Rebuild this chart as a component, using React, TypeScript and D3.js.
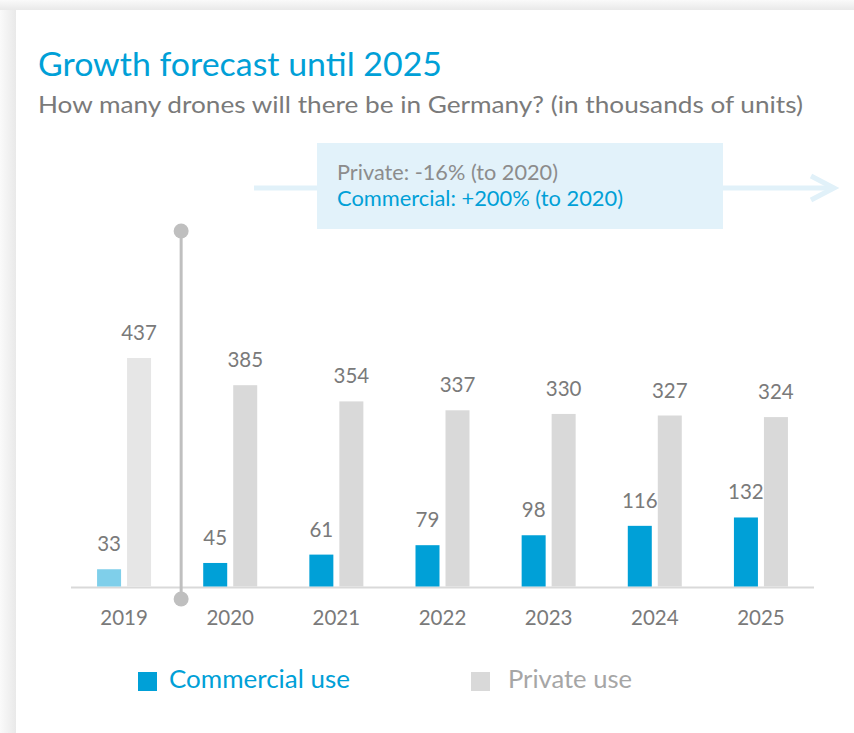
import React from "react";
import * as d3 from "d3";

const years = ["2019", "2020", "2021", "2022", "2023", "2024", "2025"];
const commercial = [33, 45, 61, 79, 98, 116, 132];
const privateUse = [437, 385, 354, 337, 330, 327, 324];
const titleText = "Growth forecast until 2025";
const subtitleText = "How many drones will there be in Germany? (in thousands of units)";
const noteLines = ["Private: -16% (to 2020)", "Commercial: +200% (to 2020)"];
const legendLabels = ["Commercial use", "Private use"];

const W = 854;
const H = 733;
const FONT = "Lato, 'Open Sans', sans-serif";
const BLUE = "#00a0d7";
const BLUE_LIGHT = "#7fcfea";
const GRAY_BAR = "#d9d9d9";
const GRAY_BAR_LIGHT = "#e6e6e6";
const TEXT_GRAY = "#7a7a7a";

export default function App() {
  const x = d3.scaleBand<string>().domain(years).range([71, 814]).padding(0);
  const y = d3.scaleLinear().domain([0, 437]).range([586.5, 358]);
  const barW = 24;
  const gap = 3;
  const cx = (yr: string) => (x(yr) as number) + x.bandwidth() / 2;
  const divX = (x("2020") as number) + 4;

  return (
    <div style={{ position: "absolute", left: 0, top: 0, width: W, height: H }}>
      <svg width={W} height={H} style={{ display: "block" }}>
        <defs>
          <linearGradient id="shL" x1="0" x2="1" y1="0" y2="0">
            <stop offset="0" stopColor="#fafafa" />
            <stop offset="1" stopColor="#e9e9e9" />
          </linearGradient>
          <linearGradient id="shT" x1="0" x2="0" y1="0" y2="1">
            <stop offset="0" stopColor="#fafafa" />
            <stop offset="1" stopColor="#e9e9e9" />
          </linearGradient>
        </defs>
        <rect x={0} y={0} width={W} height={H} fill="#f8f8f8" />
        <rect x={0} y={0} width={16} height={H} fill="url(#shL)" />
        <rect x={0} y={0} width={W} height={10} fill="url(#shT)" />
        <rect x={16} y={10} width={W - 16} height={H - 10} fill="#ffffff" />

        <text x={38} y={76} fontFamily={FONT} fontSize={33} fill={BLUE} textLength={404} lengthAdjust="spacingAndGlyphs">
          {titleText}
        </text>
        <text x={38} y={113} fontFamily={FONT} fontSize={24} fill={TEXT_GRAY} textLength={765} lengthAdjust="spacingAndGlyphs">
          {subtitleText}
        </text>

        {/* arrow */}
        <line x1={254} x2={832} y1={188} y2={188} stroke="#e1f1f9" strokeWidth={5} />
        <polyline
          points="811,176 834,188 811,200"
          fill="none"
          stroke="#e1f1f9"
          strokeWidth={5}
        />
        <rect x={317} y={143} width={406} height={86} fill="#e2f2fa" />
        <text x={337} y={180} fontFamily={FONT} fontSize={21} fill="#8c8c8c" textLength={221} lengthAdjust="spacingAndGlyphs">
          {noteLines[0]}
        </text>
        <text x={337} y={206} fontFamily={FONT} fontSize={21} fill={BLUE} textLength={286} lengthAdjust="spacingAndGlyphs">
          {noteLines[1]}
        </text>

        {/* axis baseline */}
        <line x1={71} x2={814} y1={587.5} y2={587.5} stroke="#d9d9d9" strokeWidth={2} />

        {years.map((yr, i) => {
          const c = cx(yr);
          const first = i === 0;
          return (
            <g key={yr}>
              <rect
                x={c - gap - barW}
                y={y(commercial[i])}
                width={barW}
                height={y(0) - y(commercial[i])}
                fill={first ? BLUE_LIGHT : BLUE}
              />
              <rect
                x={c + gap}
                y={y(privateUse[i])}
                width={barW}
                height={y(0) - y(privateUse[i])}
                fill={first ? GRAY_BAR_LIGHT : GRAY_BAR}
              />
              <text
                x={c - gap - barW / 2}
                y={y(commercial[i]) - 18}
                textAnchor="middle"
                fontFamily={FONT}
                fontSize={20.5}
                fill={TEXT_GRAY}
              >
                {commercial[i]}
              </text>
              <text
                x={c + gap + barW / 2}
                y={y(privateUse[i]) - 18}
                textAnchor="middle"
                fontFamily={FONT}
                fontSize={20.5}
                fill={TEXT_GRAY}
              >
                {privateUse[i]}
              </text>
              <text
                x={c}
                y={625}
                textAnchor="middle"
                fontFamily={FONT}
                fontSize={20.5}
                fill={TEXT_GRAY}
              >
                {yr}
              </text>
            </g>
          );
        })}

        {/* divider */}
        <line x1={divX} x2={divX} y1={231} y2={599} stroke="#bfbfbf" strokeWidth={3} />
        <circle cx={divX} cy={231} r={7.5} fill="#bfbfbf" />
        <circle cx={divX} cy={599} r={7.5} fill="#bfbfbf" />

        {/* legend */}
        <rect x={138} y={672} width={19} height={19} fill={BLUE} />
        <text x={169} y={688} fontFamily={FONT} fontSize={25} fill={BLUE} textLength={181} lengthAdjust="spacingAndGlyphs">
          {legendLabels[0]}
        </text>
        <rect x={471} y={672} width={19} height={19} fill={GRAY_BAR} />
        <text x={508} y={688} fontFamily={FONT} fontSize={25} fill="#a6a6a6" textLength={124} lengthAdjust="spacingAndGlyphs">
          {legendLabels[1]}
        </text>
      </svg>
    </div>
  );
}
